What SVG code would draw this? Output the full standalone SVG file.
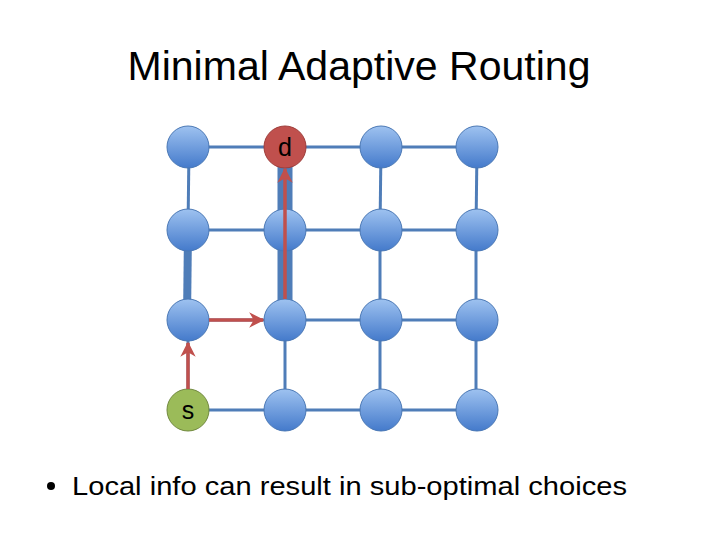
<svg xmlns="http://www.w3.org/2000/svg" width="720" height="540" viewBox="0 0 720 540">
  <style>
    .txt { font-family: "Liberation Sans", Arial, sans-serif; fill: #000; }
    .link { stroke: #4F7DB8; stroke-width: 3; fill: none; }
    .thick { stroke: #4F7DB8; fill: none; }
    .node { fill: url(#blueGrad); stroke: #4A78B5; stroke-width: 1; }
    .route { stroke: #C0504D; stroke-width: 3.5; fill: none; marker-end: url(#arrow); }
    .lbl { font-family: "Liberation Sans", Arial, sans-serif; font-size: 25px; text-anchor: middle; fill: #000; }
  </style>
  <defs>
    <linearGradient id="blueGrad" x1="0" y1="0" x2="0" y2="1">
      <stop offset="0" stop-color="#9EC2F0"/>
      <stop offset="1" stop-color="#447ACB"/>
    </linearGradient>
    <marker id="arrow" viewBox="0 0 10 10" refX="9" refY="5" markerWidth="4.4" markerHeight="4.4" orient="auto" markerUnits="strokeWidth">
      <path d="M0,0 L10,5 L0,10 L3,5 Z" fill="#C0504D"/>
    </marker>
  </defs>
  <rect width="720" height="540" fill="#fff"/>
  <text class="txt" x="359" y="80" font-size="40" text-anchor="middle" textLength="463" lengthAdjust="spacingAndGlyphs">Minimal Adaptive Routing</text>

  <g id="connectors">
    <line class="link" x1="188" y1="147" x2="285" y2="147"/>
    <line class="link" x1="285" y1="147" x2="381" y2="147"/>
    <line class="link" x1="381" y1="147" x2="477" y2="147"/>
    <line class="link" x1="188" y1="230" x2="285" y2="230"/>
    <line class="link" x1="285" y1="230" x2="381" y2="230"/>
    <line class="link" x1="381" y1="230" x2="477" y2="230"/>
    <line class="link" x1="188" y1="320" x2="285" y2="320"/>
    <line class="link" x1="285" y1="320" x2="381" y2="320"/>
    <line class="link" x1="381" y1="320" x2="477" y2="320"/>
    <line class="link" x1="188" y1="410" x2="285" y2="410"/>
    <line class="link" x1="285" y1="410" x2="381" y2="410"/>
    <line class="link" x1="381" y1="410" x2="477" y2="410"/>
    <line class="link" x1="189" y1="147" x2="188" y2="230"/>
    <line class="thick" stroke-width="8" x1="188" y1="230" x2="187" y2="320"/>
    <line class="link" x1="188" y1="320" x2="188" y2="410"/>
    <line class="thick" stroke-width="15" x1="285" y1="160" x2="285" y2="230"/>
    <line class="thick" stroke-width="15" x1="285" y1="230" x2="285" y2="305"/>
    <line class="link" x1="285" y1="320" x2="285" y2="410"/>
    <line class="link" x1="381" y1="147" x2="380" y2="230"/>
    <line class="link" x1="380" y1="230" x2="380" y2="320"/>
    <line class="link" x1="380" y1="320" x2="380" y2="410"/>
    <line class="link" x1="477" y1="147" x2="476" y2="230"/>
    <line class="link" x1="476" y1="230" x2="476" y2="320"/>
    <line class="link" x1="476" y1="320" x2="476" y2="410"/>
  </g>

  <g id="nodes">
    <g id="n00"><circle class="node" cx="188" cy="147" r="21"/></g>
    <g id="d"><circle cx="285" cy="147" r="21" fill="#C0504D" stroke="#9E3D3A" stroke-width="1"/><text class="lbl" x="285" y="156">d</text></g>
    <g id="n20"><circle class="node" cx="381" cy="147" r="21"/></g>
    <g id="n30"><circle class="node" cx="477" cy="147" r="21"/></g>
    <g id="n01"><circle class="node" cx="188" cy="230" r="21"/></g>
    <g id="n11"><circle class="node" cx="285" cy="230" r="21"/></g>
    <g id="n21"><circle class="node" cx="381" cy="230" r="21"/></g>
    <g id="n31"><circle class="node" cx="477" cy="230" r="21"/></g>
    <g id="n02"><circle class="node" cx="188" cy="320" r="21"/></g>
    <g id="n12"><circle class="node" cx="285" cy="320" r="21"/></g>
    <g id="n22"><circle class="node" cx="381" cy="320" r="21"/></g>
    <g id="n32"><circle class="node" cx="477" cy="320" r="21"/></g>
    <g id="s"><circle cx="188" cy="410" r="21" fill="#9BBB59" stroke="#71893F" stroke-width="1"/><text class="lbl" x="188" y="419">s</text></g>
    <g id="n13"><circle class="node" cx="285" cy="410" r="21"/></g>
    <g id="n23"><circle class="node" cx="381" cy="410" r="21"/></g>
    <g id="n33"><circle class="node" cx="477" cy="410" r="21"/></g>
  </g>

  <g id="route">
    <line class="route" x1="188" y1="389" x2="188" y2="343"/>
    <line class="route" x1="209" y1="320" x2="263" y2="320"/>
    <line class="route" x1="285" y1="299" x2="285" y2="169"/>
  </g>

  <g id="bullet">
    <circle cx="51" cy="486" r="4" fill="#000"/>
    <text class="txt" x="72" y="495" font-size="26" textLength="555" lengthAdjust="spacingAndGlyphs">Local info can result in sub-optimal choices</text>
  </g>
</svg>
